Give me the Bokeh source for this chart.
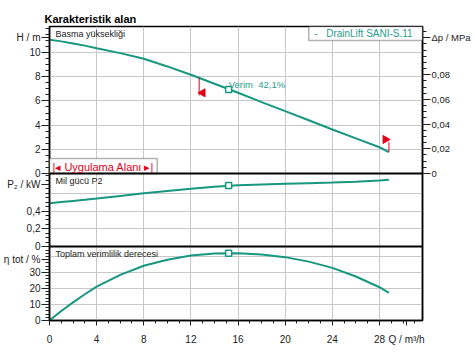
import numpy as np
from bokeh.plotting import figure
from bokeh.models import (Range1d, LinearAxis, FixedTicker, CustomJSTickFormatter,
                          Label, BoxAnnotation, Span, Grid, Title)
from bokeh.embed import file_html
from bokeh.resources import INLINE

# ---------------- data ----------------
q = [0, 1, 2, 3, 4, 6, 8, 10, 12, 14, 16, 18, 20, 22, 24, 26, 28, 28.8]
head_m = [11.05, 10.92, 10.75, 10.57, 10.36, 9.95, 9.48, 8.85, 8.16, 7.42, 6.67,
          5.90, 5.15, 4.40, 3.64, 2.90, 2.17, 1.76]
power_kw = [0.489, 0.502, 0.515, 0.528, 0.542, 0.572, 0.602, 0.628, 0.652, 0.675,
            0.692, 0.700, 0.708, 0.716, 0.723, 0.733, 0.746, 0.753]
eff_pct = [0, 5.9, 11.3, 16.4, 21.2, 28.5, 34.2, 38.0, 40.6, 41.9, 42.0, 41.2,
           39.6, 36.8, 32.9, 27.5, 20.8, 17.3]
bep_q = [15.2]
bep_h = [6.94]
bep_p = [0.689]
bep_eff = [42.1]
bep_label = "Verim\u00a0\u00a042,1%"
limit_q = [12.7, 28.8]          # application range limits
limit_flag_h = [6.45, 2.59]     # end of the flag stems

q_ticks = [0, 4, 8, 12, 16, 20, 24, 28]
q_labels = ["0", "4", "8", "12", "16", "20", "24", "28"]
h_ticks = [0, 2, 4, 6, 8, 10]
h_labels = ["0", "2", "4", "6", "8", "10"]
dp_ticks = [0, 0.02, 0.04, 0.06, 0.08]
dp_labels = ["0", "0,02", "0,04", "0,06", "0,08"]
p_ticks = [0, 0.2, 0.4]
p_labels = ["0", "0,2", "0,4"]
eff_ticks = [0, 10, 20, 30]
eff_labels = ["0", "10", "20", "30"]

title_text = "Karakteristik alan"
series_name = "-\u00a0\u00a0\u00a0DrainLift SANI-S.11"
h_unit = "H / m"
p_unit = "P₂ / kW"
eff_unit = "η tot / %"
dp_unit = "Δp / MPa"
q_unit = "Q / m³/h"

# ---------------- styles ----------------
TEAL = "#17977f"
TEAL_TXT = "#2a9d8a"
RED = "#e2001a"
GRID = "#c8c8c8"
FONT = "Liberation Sans"
MPA_PER_M = 0.00980665

XR = Range1d(0, 31.65)
HR = Range1d(-12.15, 12.15)
PR = Range1d(-0.836, 2.486)
ER = Range1d(0, 183.75)
DPR = Range1d(HR.start * MPA_PER_M, HR.end * MPA_PER_M)


def to_main(v, r):
    return HR.start + (v - r.start) / (r.end - r.start) * (HR.end - HR.start)


p = figure(width=475, height=352, x_range=XR, y_range=HR, output_backend="svg",
           toolbar_location=None, title=None, min_border=0)
p.min_border_left = 48
p.min_border_right = 53
p.min_border_top = 26
p.min_border_bottom = 32
p.extra_y_ranges = {"P": PR, "eta": ER, "dp": DPR}
p.background_fill_color = "white"
p.border_fill_color = "white"
p.outline_line_color = "black"
p.outline_line_width = 1.5

# ---- grids ----
p.xgrid.ticker = FixedTicker(ticks=q_ticks[1:])
p.ygrid.ticker = FixedTicker(ticks=h_ticks[1:])
for g in (p.xgrid, p.ygrid):
    g.grid_line_color = GRID
    g.grid_line_width = 1
p.add_layout(Grid(dimension=1, y_range_name="P", ticker=FixedTicker(ticks=[0.2, 0.4, 0.6]),
                  grid_line_color=GRID, grid_line_width=1), "center")
p.add_layout(Grid(dimension=1, y_range_name="eta", ticker=FixedTicker(ticks=[10, 20, 30, 40]),
                  grid_line_color=GRID, grid_line_width=1), "center")

LOOKUP = """
let best = 0, d = 1e9;
for (let i = 0; i < pos.length; i++) { const e = Math.abs(pos[i] - tick); if (e < d) { d = e; best = i; } }
return lab[best];
"""

# ---- left combined axis (H, P2, eta panels + unit captions) ----
main_ticks = ([float(t) for t in h_ticks] + [11.24]
              + [to_main(t, PR) for t in p_ticks] + [to_main(0.7, PR)]
              + [to_main(t, ER) for t in eff_ticks] + [to_main(38, ER)])
main_labels = h_labels + [h_unit] + p_labels + [p_unit] + eff_labels + [eff_unit]
main_minor = ([float(v) for v in np.arange(0, 12.01, 0.5)]
              + [to_main(v, PR) for v in np.arange(0, 0.801, 0.05)]
              + [to_main(v, ER) for v in np.arange(0, 46.1, 2)])
left = p.left[0]
left.ticker = FixedTicker(ticks=main_ticks, minor_ticks=main_minor)
left.formatter = CustomJSTickFormatter(args=dict(pos=main_ticks, lab=main_labels), code=LOOKUP)

# ---- right Δp axis ----
dp_pos = [float(t) for t in dp_ticks] + [0.11]
right = LinearAxis(y_range_name="dp",
                   ticker=FixedTicker(ticks=dp_pos,
                                      minor_ticks=[float(v) for v in np.arange(0, 0.1201, 0.005)]),
                   formatter=CustomJSTickFormatter(args=dict(pos=dp_pos, lab=dp_labels + [dp_unit]),
                                                   code=LOOKUP))
p.add_layout(right, "right")

# ---- bottom axis ----
q_pos = [float(t) for t in q_ticks] + [30.3]
bottom = p.below[0]
bottom.ticker = FixedTicker(ticks=q_pos, minor_ticks=list(range(0, 32)))
bottom.formatter = CustomJSTickFormatter(args=dict(pos=q_pos, lab=q_labels + [q_unit]), code=LOOKUP)

for ax, tick_out, minor_out, standoff in ((left, 8, 4, 1), (right, 8, 4, 1), (bottom, 5, 3, 8)):
    ax.axis_line_color = "black"
    ax.axis_line_width = 1.5
    ax.major_tick_line_color = "#222222"
    ax.minor_tick_line_color = "#222222"
    ax.major_tick_out = tick_out
    ax.major_tick_in = 0
    ax.minor_tick_out = minor_out
    ax.minor_tick_in = 0
    ax.major_label_standoff = standoff
    ax.major_label_text_font = FONT
    ax.major_label_text_font_size = "10px"
    ax.major_label_text_color = "#222222"
right.major_label_text_font_size = "9.5px"

# ---- title ----
p.add_layout(Title(text=title_text, align="left", offset=-5, standoff=4,
                   text_font=FONT, text_font_size="11px", text_font_style="bold",
                   text_color="black"), "above")

# ---- curves ----
p.line(q, head_m, line_color=TEAL, line_width=2)
p.line(q, power_kw, line_color=TEAL, line_width=2, y_range_name="P")
p.line(q, eff_pct, line_color=TEAL, line_width=2, y_range_name="eta")
for yy, rn in ((bep_h, "default"), (bep_p, "P"), (bep_eff, "eta")):
    p.scatter(bep_q, yy, marker="square", size=6, line_color=TEAL, line_width=1.5,
              fill_color="white", y_range_name=rn)

# ---- application range flags ----
stem_start = list(np.interp(limit_q, q, head_m))
p.segment(x0=limit_q, y0=stem_start, x1=limit_q, y1=limit_flag_h, line_color=RED, line_width=1)
p.scatter([limit_q[0] + 0.3], [limit_flag_h[0] + 0.22], marker="triangle", angle=np.pi / 2,
          size=8, color=RED)
p.scatter([limit_q[1] - 0.3], [limit_flag_h[1] + 0.22], marker="triangle", angle=-np.pi / 2,
          size=8, color=RED)

# ---- boxes ----
p.add_layout(BoxAnnotation(left=22.0, right=XR.end, bottom=10.99, top=HR.end,
                           fill_color="white", fill_alpha=1, line_color="black", line_width=1.5))
p.add_layout(BoxAnnotation(left=XR.start, right=9.14, bottom=0, top=1.24,
                           fill_color="white", fill_alpha=1, line_color="black", line_width=1.5))

# ---- separators ----
p.add_layout(Span(location=0, dimension="width", line_color="black", line_width=2))
p.add_layout(Span(location=0, dimension="width", y_range_name="P", line_color="black", line_width=2))


def lab(text, x, y, size="10px", color="#222222", style="normal", align="left",
        baseline="middle"):
    p.add_layout(Label(x=x, y=y, x_units="screen", y_units="screen", text=text,
                       text_font=FONT, text_font_size=size, text_color=color,
                       text_font_style=style, text_align=align, text_baseline=baseline))


lab("Basma yüksekliği", 6, 286.5, size="9px")
lab("Mil gücü P2", 6, 140, size="9px")
lab("Toplam verimlilik derecesi", 6, 66.5, size="9px")
lab(series_name, 265, 287, color=TEAL_TXT)
lab("|◂ Uygulama Alanı ▸|", 53.7, 154, size="11px", color=RED, align="center")

p.add_layout(Label(x=bep_q[0], y=bep_h[0], text=bep_label, text_font=FONT,
                   text_font_size="9.5px", text_color=TEAL_TXT, text_baseline="bottom",
                   text_align="left", x_offset=0, y_offset=0))

open("out.html", "w").write(file_html(p, INLINE))
